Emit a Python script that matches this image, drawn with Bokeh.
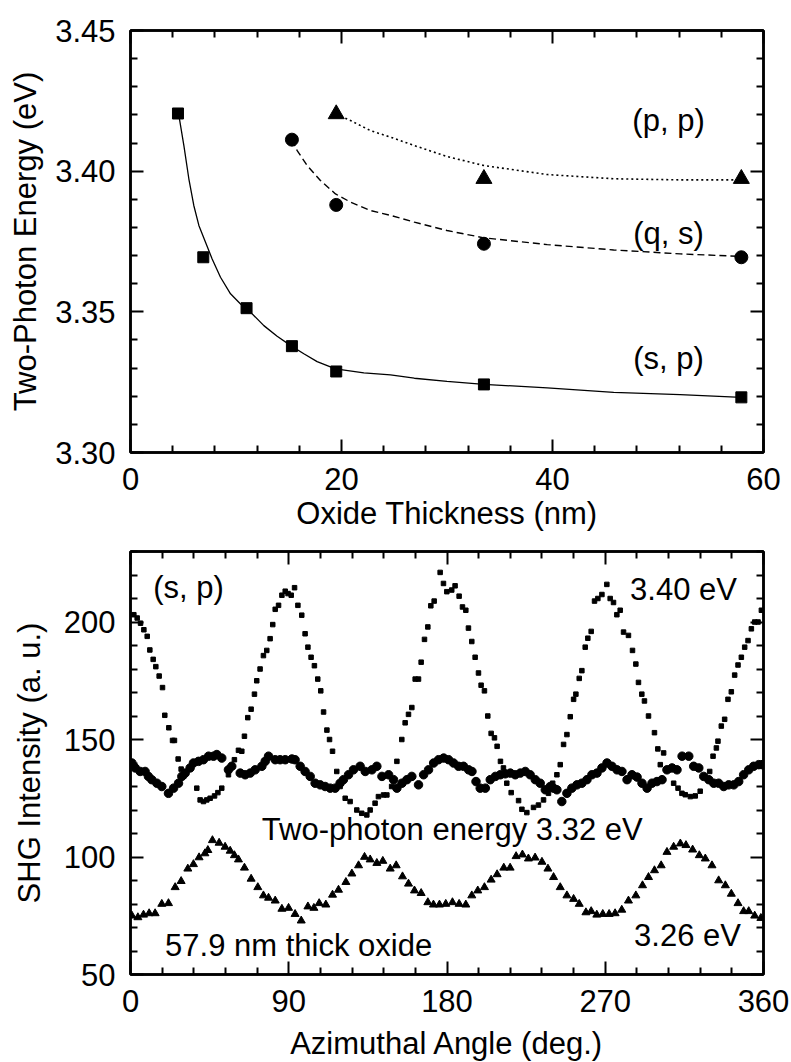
from bokeh.plotting import figure
from bokeh.layouts import column
from bokeh.models import Label, LinearAxis, FixedTicker, PrintfTickFormatter, Range1d, CustomJSTickFormatter
from bokeh.embed import file_html
from bokeh.resources import INLINE

# ---------------- top panel data ----------------
thick_sp = [4.5, 6.9, 11.0, 15.3, 19.5, 33.5, 57.9]
energy_sp = [3.4205, 3.3694, 3.3513, 3.3378, 3.3288, 3.3242, 3.3196]
thick_qs = [15.3, 19.5, 33.5, 57.9]
energy_qs = [3.4112, 3.3880, 3.3742, 3.3694]
thick_pp = [19.5, 33.5, 57.9]
energy_pp = [3.4203, 3.3973, 3.3973]

fit_sp_x = [4.6, 5.06, 5.53, 6.0, 6.48, 7.11, 7.74, 8.53, 9.48, 10.43, 11.37, 12.64, 13.9,
            15.26, 16.43, 17.69, 19.43, 22.12, 24.64, 26.9, 30.0, 33.5, 39.5, 45.8, 52.1, 57.9]
fit_sp_y = [3.4195, 3.4091, 3.3973, 3.3878, 3.3807, 3.3747, 3.3688, 3.3623, 3.3564, 3.3528,
            3.3499, 3.3451, 3.3413, 3.3378, 3.3351, 3.3323, 3.3297, 3.3283, 3.3276, 3.3264,
            3.3253, 3.3242, 3.3230, 3.3214, 3.3206, 3.3196]
fit_qs_x = [15.3, 15.8, 16.75, 18.0, 19.43, 20.85, 22.75, 24.64, 26.9, 30.0, 33.5, 39.5, 45.8, 52.1, 57.9]
fit_qs_y = [3.4112, 3.4073, 3.4020, 3.3967, 3.3919, 3.3890, 3.3860, 3.3843, 3.3819, 3.3789,
            3.3763, 3.3739, 3.3720, 3.3706, 3.3697]
fit_pp_x = [19.5, 20.85, 22.75, 24.64, 26.9, 30.0, 33.5, 39.5, 45.8, 52.1, 57.9]
fit_pp_y = [3.4203, 3.4180, 3.4144, 3.4121, 3.4091, 3.4052, 3.4020, 3.3988, 3.3973, 3.3969, 3.3969]

top_xticks = [0, 20, 40, 60]
top_xminor = [4, 8, 12, 16, 24, 28, 32, 36, 44, 48, 52, 56]
top_yticks = [3.30, 3.35, 3.40, 3.45]
top_yminor = [3.31, 3.32, 3.33, 3.34, 3.36, 3.37, 3.38, 3.39, 3.41, 3.42, 3.43, 3.44]

# ---------------- bottom panel data ----------------
ang_340 = [1.9, 3.8, 5.7, 7.6, 9.5, 11.0, 12.9, 14.4, 16.3, 18.2, 19.5, 21.8, 23.9, 25.0, 27.1, 28.8,
           30.4, 37.7, 39.6, 41.5, 43.4, 45.3, 47.8, 49.7, 51.9, 55.7, 59.1, 61.4, 63.3, 64.8, 66.7,
           68.6, 70.5, 71.8, 73.7, 75.6, 77.5, 79.4, 80.9, 82.3, 84.2, 86.1, 88.0, 89.6, 91.4, 93.3,
           95.2, 97.4, 99.3, 100.9, 102.7, 104.6, 106.5, 108.2, 109.8, 111.7, 113.2, 114.9, 117.3,
           119.2, 122.1, 124.9, 128.7, 131.5, 134.4, 136.3, 139.1, 141.0, 143.9, 145.8, 148.5, 151.5,
           154.3, 156.2, 158.1, 160.0, 161.9, 163.8, 165.3, 167.2, 169.1, 170.8, 172.7, 176.1, 178.0,
           179.9, 182.7, 184.6, 186.9, 188.8, 190.7, 192.2, 194.1, 196.0, 197.9, 199.4, 201.3, 203.2,
           205.1, 207.0, 208.5, 210.4, 212.1, 214.0, 216.5, 220.7, 222.6, 225.4, 229.2, 232.0, 234.9,
           237.7, 240.1, 242.5, 244.4, 246.3, 248.2, 250.1, 252.0, 253.3, 255.2, 256.7, 258.6, 260.1,
           262.0, 263.9, 265.8, 268.1, 270.9, 272.8, 274.7, 276.6, 278.5, 280.4, 283.2, 285.5, 287.4,
           288.9, 290.8, 292.3, 294.6, 298.0, 299.9, 301.3, 303.2, 306.1, 308.9, 311.4, 313.6, 315.5,
           318.4, 321.2, 324.0, 329.4, 331.3, 333.2, 334.1, 336.0, 337.9, 339.8, 341.7, 343.6, 345.5,
           347.4, 349.3, 351.2, 353.1, 355.0, 356.9, 358.8]
shg_340 = [203.1, 201.7, 199.5, 196.7, 193.9, 188.1, 184.1, 181.0, 177.0, 172.1, 160.3, 155.0, 149.6,
           149.6, 141.7, 137.4, 134.5, 129.3, 124.3, 123.6, 124.3, 125.0, 126.0, 127.4, 129.3, 135.0,
           141.4, 145.4, 145.0, 151.4, 159.3, 162.9, 169.3, 175.0, 180.0, 185.7, 187.9, 192.9, 198.9,
           205.4, 207.1, 211.4, 213.1, 212.1, 211.4, 214.6, 207.1, 202.9, 195.0, 189.3, 185.0, 181.4,
           175.7, 170.7, 161.7, 154.0, 150.0, 145.0, 136.4, 130.0, 125.0, 123.6, 120.0, 118.6, 117.9,
           120.0, 122.9, 125.7, 126.4, 126.4, 130.0, 140.7, 150.0, 157.1, 160.7, 163.6, 175.7, 175.7,
           182.9, 192.6, 197.9, 206.9, 208.9, 221.1, 216.4, 212.9, 213.6, 215.4, 211.0, 206.4, 205.0,
           197.4, 191.7, 185.0, 178.3, 173.1, 170.7, 160.0, 152.6, 150.7, 147.1, 140.7, 137.9, 131.4,
           127.4, 124.0, 120.3, 118.9, 121.1, 122.1, 124.3, 127.1, 131.4, 135.0, 139.3, 147.9, 152.1,
           159.7, 167.1, 169.3, 176.0, 179.3, 189.3, 193.1, 196.0, 208.9, 210.0, 211.7, 216.0, 210.0,
           208.3, 203.1, 205.0, 195.7, 194.3, 187.9, 182.1, 174.3, 169.3, 166.4, 160.0, 152.9, 146.0,
           139.3, 144.3, 137.1, 131.4, 129.3, 127.1, 126.5, 125.7, 126.0, 128.0, 136.4, 142.9, 146.4,
           149.3, 155.7, 158.6, 167.1, 170.3, 177.4, 181.7, 185.0, 189.3, 192.1, 197.1, 200.0, 200.0,
           205.0]

ang_332 = [0.8, 2.7, 5.5, 8.3, 10.2, 12.1, 15.0, 17.8, 21.6, 24.5, 27.3, 29.2, 31.1, 33.9, 35.8, 38.7,
           41.5, 44.4, 47.2, 49.1, 51.9, 55.7, 57.6, 62.4, 65.2, 68.1, 70.9, 74.7, 76.6, 78.5, 82.3,
           85.1, 88.0, 91.8, 93.6, 96.5, 99.3, 102.2, 105.0, 107.9, 110.7, 113.6, 116.4, 119.2, 121.1,
           124.0, 126.8, 130.6, 133.5, 137.3, 140.1, 143.0, 146.8, 149.6, 151.5, 154.4, 157.2, 160.0,
           163.8, 166.7, 169.5, 172.4, 175.2, 178.1, 180.9, 183.7, 186.6, 189.4, 192.3, 194.2, 196.5,
           198.9, 201.8, 204.6, 207.5, 210.3, 213.1, 216.0, 218.8, 221.7, 224.5, 227.3, 230.2, 233.0,
           235.9, 238.7, 240.6, 242.5, 245.3, 248.2, 251.0, 253.9, 256.7, 259.6, 262.4, 265.3, 268.1,
           271.0, 273.8, 276.7, 279.5, 282.4, 285.2, 288.1, 290.9, 293.8, 296.6, 299.4, 302.3, 305.1,
           308.0, 310.8, 313.7, 317.5, 320.3, 323.2, 326.0, 328.9, 331.7, 334.5, 337.4, 340.2, 343.1,
           345.9, 348.7, 351.6, 354.4, 357.3, 359.2]
shg_332 = [140.0, 137.9, 136.4, 136.4, 134.3, 132.9, 131.4, 130.0, 127.1, 129.3, 131.4, 134.3, 135.7,
           137.9, 140.0, 140.7, 141.4, 142.9, 142.9, 143.6, 142.1, 137.1, 138.6, 135.7, 135.0, 135.7,
           137.1, 138.6, 140.7, 142.9, 141.4, 141.4, 141.4, 141.7, 141.4, 138.6, 136.4, 134.3, 131.4,
           130.7, 130.0, 129.3, 129.3, 131.4, 132.9, 135.0, 137.1, 138.6, 136.4, 137.1, 138.6, 134.3,
           135.0, 132.9, 129.3, 131.4, 132.9, 134.3, 130.7, 135.0, 137.1, 140.0, 141.4, 142.1, 141.4,
           140.0, 138.6, 138.6, 137.1, 136.4, 132.1, 129.3, 129.3, 132.9, 134.3, 135.0, 135.4, 135.7,
           135.0, 135.7, 136.4, 135.0, 132.9, 131.4, 128.6, 130.0, 129.3, 128.6, 123.6, 127.1, 129.3,
           130.7, 131.4, 132.9, 135.0, 135.7, 137.9, 140.0, 138.6, 137.1, 136.4, 132.9, 135.0, 134.0,
           131.4, 129.3, 131.4, 132.1, 132.9, 137.1, 137.9, 137.1, 142.9, 142.9, 138.6, 137.9, 134.3,
           132.9, 131.4, 131.4, 130.0, 130.7, 130.7, 132.1, 135.0, 137.1, 138.6, 139.3, 139.3]

ang_326 = [0.8, 4.2, 7.4, 10.6, 14.0, 17.8, 21.6, 25.4, 28.8, 32.6, 35.8, 39.0, 42.3, 44.0, 46.6, 50.4,
           53.8, 56.7, 59.1, 61.4, 64.8, 68.6, 72.4, 75.6, 78.5, 82.3, 86.1, 89.9, 93.6, 97.1, 100.9,
           104.3, 107.3, 111.1, 114.9, 118.3, 122.5, 125.9, 129.7, 133.1, 136.3, 140.1, 143.5, 147.7,
           151.1, 154.7, 158.1, 161.5, 165.3, 169.1, 172.3, 175.7, 179.3, 183.1, 186.9, 190.7, 194.1,
           197.5, 201.3, 205.1, 208.5, 212.3, 215.9, 219.3, 222.9, 226.3, 230.1, 234.0, 237.4, 240.6,
           244.4, 248.2, 252.0, 255.2, 259.0, 262.0, 265.2, 268.6, 272.2, 275.6, 279.4, 283.2, 287.4,
           291.2, 294.6, 298.0, 301.8, 305.1, 308.9, 312.7, 315.9, 319.7, 323.5, 326.9, 330.7, 334.5,
           338.3, 341.7, 345.5, 348.7, 351.6, 355.0, 358.5]
shg_326 = [75.0, 74.3, 75.4, 76.0, 76.0, 80.0, 80.3, 87.1, 89.7, 95.0, 96.9, 99.8, 101.5, 102.9, 107.1,
           106.0, 104.3, 102.6, 100.7, 98.9, 95.4, 90.7, 87.1, 83.6, 82.6, 81.4, 77.9, 78.3, 75.7, 72.9,
           78.9, 78.3, 80.3, 79.7, 83.9, 86.0, 89.3, 92.9, 96.4, 100.0, 98.9, 97.4, 98.3, 95.0, 96.4,
           91.7, 88.6, 85.7, 84.6, 80.7, 79.7, 79.7, 80.0, 80.7, 80.0, 79.7, 83.6, 85.7, 87.1, 90.3,
           92.6, 95.4, 95.4, 100.3, 101.0, 99.3, 99.7, 97.9, 95.0, 91.4, 87.1, 83.6, 82.1, 80.0, 76.4,
           76.9, 75.4, 75.7, 75.7, 76.0, 77.5, 81.4, 83.6, 87.9, 91.4, 94.3, 96.4, 102.1, 104.3, 105.7,
           105.0, 103.1, 100.7, 99.3, 96.4, 90.0, 87.9, 84.3, 80.3, 76.9, 76.9, 75.0, 74.0]

bot_xticks = [0, 90, 180, 270, 360]
bot_xminor = [18, 36, 54, 72, 108, 126, 144, 162, 198, 216, 234, 252, 288, 306, 324, 342]
bot_yticks = [50, 100, 150, 200]
bot_yminor = [60, 70, 80, 90, 110, 120, 130, 140, 160, 170, 180, 190, 210, 220, 230]

FONT = "Liberation Sans"
FS = "31px"


def style(p, xt, xm, yt, ym, yfmt=None):
    p.xgrid.grid_line_color = None
    p.ygrid.grid_line_color = None
    p.outline_line_color = "black"
    p.outline_line_width = 2.5
    p.background_fill_color = "white"
    p.border_fill_color = "white"
    for ax in p.xaxis:
        ax.ticker = FixedTicker(ticks=xt, minor_ticks=xm)
    for ax in p.yaxis:
        ax.ticker = FixedTicker(ticks=yt, minor_ticks=ym)
        if yfmt is not None:
            ax.formatter = yfmt
    # mirrored axes (ticks only)
    top = LinearAxis(ticker=FixedTicker(ticks=xt, minor_ticks=xm))
    right = LinearAxis(ticker=FixedTicker(ticks=yt, minor_ticks=ym))
    for ax in (top, right):
        ax.formatter = CustomJSTickFormatter(code="return ''")
        ax.major_label_standoff = 0
    p.add_layout(top, "above")
    p.add_layout(right, "right")
    for ax in p.axis:
        ax.axis_line_width = 2.5
        ax.axis_line_color = "black"
        ax.major_tick_line_width = 2
        ax.minor_tick_line_width = 2
        ax.major_tick_in = 13
        ax.major_tick_out = 0
        ax.minor_tick_in = 7
        ax.minor_tick_out = 0
        ax.major_label_text_font = FONT
        ax.axis_label_text_font = FONT
        ax.axis_label_text_font_style = "normal"
        ax.axis_label_text_font_size = FS
        ax.axis_label_text_color = "black"
        ax.major_label_text_color = "black"
    for ax in p.below + p.left:
        ax.major_label_text_font_size = FS


def lab(p, x, y, t):
    p.add_layout(Label(x=x, y=y, text=t, text_font=FONT, text_font_size=FS,
                       text_align="center", text_baseline="middle", text_color="black"))


# ---------------- top figure ----------------
p1 = figure(output_backend="svg", toolbar_location=None,
            frame_width=633, frame_height=422,
            x_range=Range1d(0, 60), y_range=Range1d(3.30, 3.45),
            min_border_left=130, min_border_right=28, min_border_top=30, min_border_bottom=79)
style(p1, top_xticks, top_xminor, top_yticks, top_yminor, PrintfTickFormatter(format="%.2f"))
xb1 = p1.below[0]
xb1.axis_label = "Oxide Thickness (nm)"
xb1.major_label_standoff = 15
xb1.axis_label_standoff = 3
yl1 = p1.left[0]
yl1.axis_label = "Two-Photon Energy (eV)"
yl1.major_label_standoff = 15
yl1.axis_label_standoff = 9

p1.line(fit_sp_x, fit_sp_y, line_color="black", line_width=1.3)
p1.line(fit_qs_x, fit_qs_y, line_color="black", line_width=1.4, line_dash="7 4")
p1.line(fit_pp_x, fit_pp_y, line_color="black", line_width=1.6, line_dash="2 3")
p1.scatter(thick_sp, energy_sp, marker="square", size=11, color="black")
p1.scatter(thick_qs, energy_qs, marker="circle", size=13, color="black")
p1.scatter(thick_pp, energy_pp, marker="triangle", size=16, color="black")
lab(p1, 51.0, 3.418, "(p, p)")
lab(p1, 51.0, 3.3778, "(q, s)")
lab(p1, 51.0, 3.3334, "(s, p)")

# ---------------- bottom figure ----------------
p2 = figure(output_backend="svg", toolbar_location=None,
            frame_width=633, frame_height=423,
            x_range=Range1d(0, 360), y_range=Range1d(50, 230),
            min_border_left=130, min_border_right=28, min_border_top=18, min_border_bottom=90)
style(p2, bot_xticks, bot_xminor, bot_yticks, bot_yminor)
xb2 = p2.below[0]
xb2.axis_label = "Azimuthal Angle (deg.)"
xb2.major_label_standoff = 15
xb2.axis_label_standoff = 11
yl2 = p2.left[0]
yl2.axis_label = "SHG Intensity (a. u.)"
yl2.major_label_standoff = 15
yl2.axis_label_standoff = 14

p2.scatter(ang_332, shg_332, marker="circle", size=8.5, color="black")
p2.scatter(ang_340, shg_340, marker="square", size=4.5, color="black")
p2.scatter(ang_326, shg_326, marker="triangle", size=8, color="black")
lab(p2, 33, 214.6, "(s, p)")
lab(p2, 314.5, 213.7, "3.40 eV")
lab(p2, 183, 111.7, "Two-photon energy 3.32 eV")
lab(p2, 95.6, 62.4, "57.9 nm thick oxide")
lab(p2, 316.8, 66.7, "3.26 eV")

layout = column(p1, p2)
open("out.html", "w").write(file_html(layout, INLINE))
